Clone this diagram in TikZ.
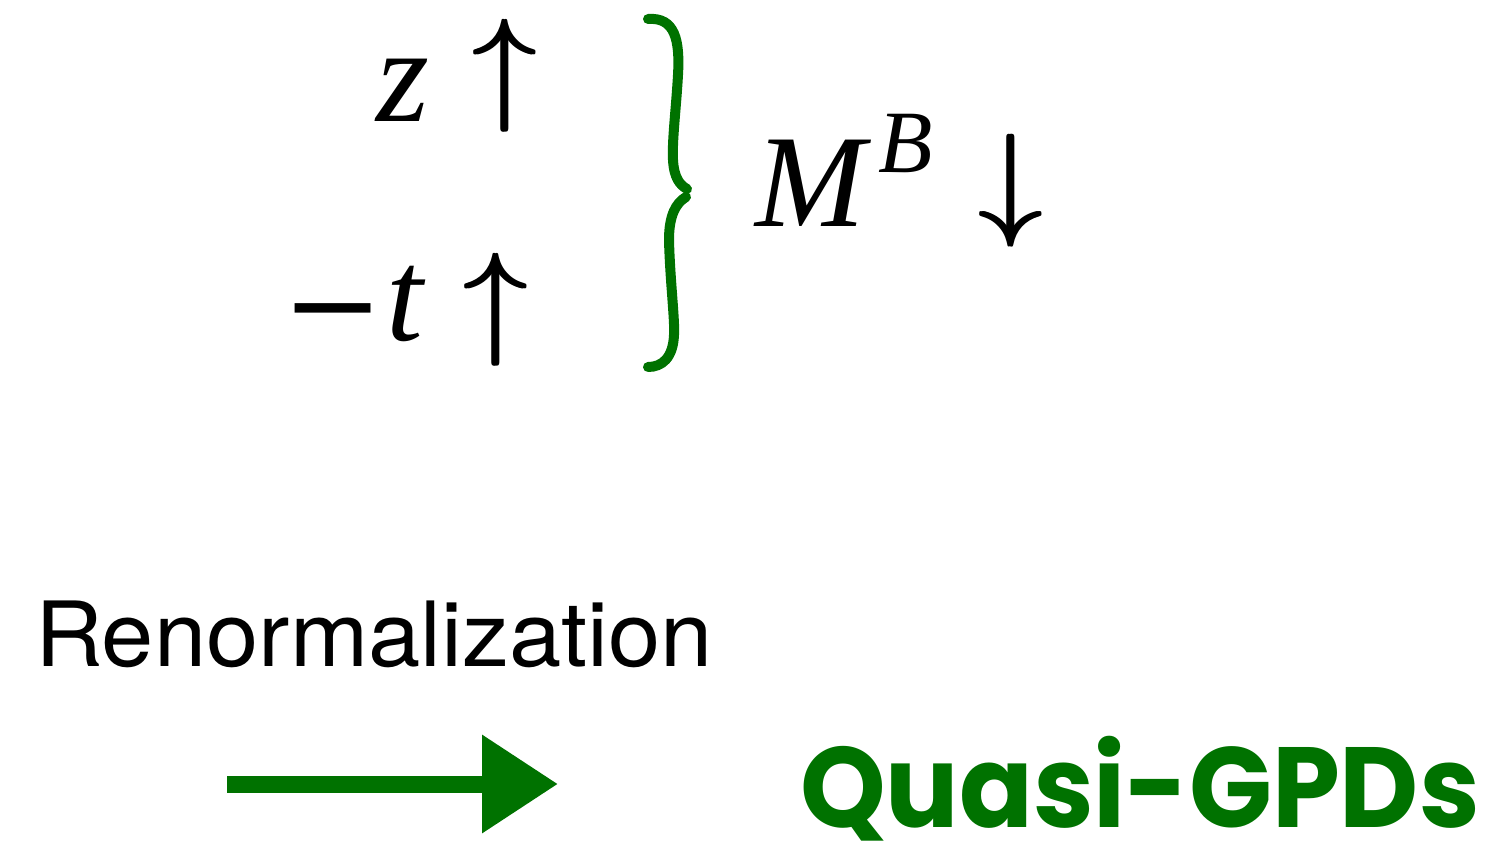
\RequirePackage{fix-cm}
\documentclass[tikz,border=0pt]{standalone}
\usepackage{fontspec}
\usepackage{graphicx}
\usetikzlibrary{arrows.meta}
\newfontfamily\tms{Liberation Serif}
\newfontfamily\hel{TeX Gyre Heros}
\newfontfamily\pop{Poppins}
\definecolor{qgreen}{RGB}{0,114,0}
\newcommand\fatsym[1]{\ooalign{$#1$\cr\kern0.75pt$#1$\cr\kern1.5pt$#1$\cr}}
\tikzset{
  txt/.style={inner sep=0pt, outer sep=0pt, anchor=base west},
  sym/.style={inner sep=0pt, outer sep=0pt, anchor=center},
  brace/.style={draw=qgreen, line width=5pt, line cap=round},
  chalk/.style={draw=qgreen, line width=8.5pt, -{Triangle[length=38pt,width=47pt,fill=qgreen]}},
}
\begin{document}
\begin{tikzpicture}[x=0.5pt, y=-0.5pt]
\useasboundingbox (0,0) rectangle (1501,851);
% left column
\node[txt] (z) at (376,121) {\fontsize{68}{72}\selectfont\tms\itshape z};
\node[sym] (zup) at (504.5,76) {\fontsize{63.6}{70}\selectfont\fatsym{\uparrow}};
\node[txt] (minus) at (286,353) {\scalebox{1.2}[1]{\fontsize{68}{72}\selectfont\tms\bfseries −}};
\node[txt] (t) at (386,340) {\fontsize{66}{70}\selectfont\tms\itshape t};
\node[sym] (tup) at (495.5,310) {\fontsize{63.6}{70}\selectfont\fatsym{\uparrow}};
% brace
\draw[brace] (648,19) .. controls (675,17) and (680,40) .. (678,75)
  .. controls (676,110) and (672,140) .. (673,160)
  .. controls (674,178) and (680,185) .. (687,189);
\draw[brace] (686,197) .. controls (676,203) and (669,215) .. (669,240)
  .. controls (670,280) and (675,320) .. (674,335)
  .. controls (673,358) and (662,367) .. (648,367);
% right side
\node[txt] (M) at (755,226) {\fontsize{66}{70}\selectfont\tms\itshape M};
\node[txt] (B) at (878,172) {\fontsize{44.5}{50}\selectfont\tms\itshape B};
\node[sym] (mdown) at (1011,191) {\fontsize{63.6}{70}\selectfont\fatsym{\downarrow}};
% bottom
\node[txt] (ren) at (35,666) {\scalebox{1.044}[1]{\fontsize{45}{50}\selectfont\hel Renormalization}};
\coordinate (aS) at (227,784);
\coordinate (aE) at (558,784);
\draw[chalk] (aS) -- (aE);
\node[txt, text=qgreen] (q) at (800,827) {\scalebox{0.955}[1]{\fontsize{57}{60}\selectfont\pop\bfseries Quasi-GPDs}};
\end{tikzpicture}
\end{document}
